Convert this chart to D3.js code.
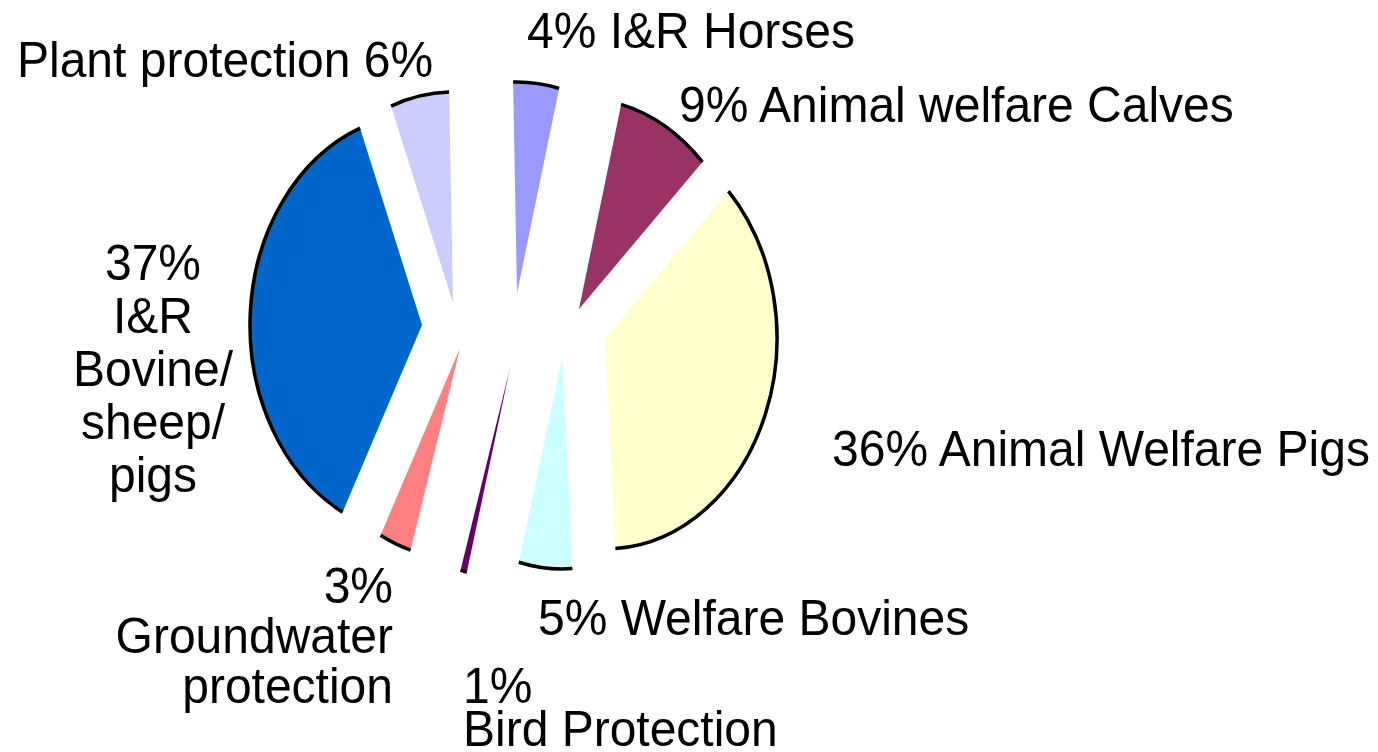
<!DOCTYPE html>
<html>
<head>
<meta charset="utf-8">
<script src="https://cdn.jsdelivr.net/npm/d3@7"></script>
<style>
	body { margin: 0; background: #fff; }
	svg { display: block; }
	text { font-family: "Liberation Sans", Arial, sans-serif; font-size: 48px; fill: #000; }
</style>
</head>
<body>
<div id="chart"></div>
<script>
// slices, clockwise from 12 o'clock
var categories = ["I&R Horses", "Animal welfare Calves", "Animal Welfare Pigs", "Welfare Bovines",
	"Bird Protection", "Groundwater protection", "I&R Bovine/sheep/pigs", "Plant protection"];
var values = [4.3, 8.8, 36.3, 5.0, 0.6, 3.0, 36.5, 5.5];
var colors = ["#9999FF", "#993366", "#FFFFCC", "#CCFFFF", "#660066", "#FF8080", "#0066CC", "#CCCCFF"];

// label text, {p} = percent
var labelLines = [
	["{p} I&R Horses"],
	["{p} Animal welfare Calves"],
	["{p} Animal Welfare Pigs"],
	["{p} Welfare Bovines"],
	["{p}", "Bird Protection"],
	["{p}", "Groundwater", "protection"],
	["{p}", "I&R", "Bovine/", "sheep/", "pigs"],
	["Plant protection {p}"]
];

// layout (pixels)
var width = 1378, height = 752;
var cx = 514, cy = 331;
var rx = 172, ry = 211;
var startDeg = -1.3;
var textStretch = 1.05;
// each slice was pulled out by hand, offset of its tip from the centre
var explode = [[3, -38], [65, -22], [91, 7], [48, 27], [-4, 37], [-54, 17], [-92, -6], [-61, -28]];
var labelPos = [
	{x: 527, y: 48, anchor: "start", lh: 0},
	{x: 679, y: 122, anchor: "start", lh: 0},
	{x: 832, y: 466, anchor: "start", lh: 0},
	{x: 538, y: 635, anchor: "start", lh: 0},
	{x: 463, y: 703, anchor: "start", lh: 43},
	{x: 393, y: 603, anchor: "end", lh: 50},
	{x: 153, y: 280, anchor: "middle", lh: 53}
	, {x: 17, y: 77, anchor: "start", lh: 0}
];

var svg = d3.select("#chart").append("svg")
	.attr("width", width)
	.attr("height", height);

var start = startDeg * Math.PI / 180;
var pie = d3.pie().sort(null).startAngle(start).endAngle(start + 2 * Math.PI);
var arcs = pie(values);
var arcFill = d3.arc().innerRadius(0).outerRadius(rx);

var slice = svg.selectAll("g.slice")
	.data(arcs)
	.enter().append("g")
	.attr("class", "slice")
	.attr("transform", function (d, i) {
		return "translate(" + (cx + explode[i][0]) + "," + (cy + explode[i][1]) + ") scale(1," + (ry / rx) + ")";
	});

slice.append("path")
	.attr("d", arcFill)
	.attr("fill", function (d, i) { return colors[i]; });

// black rim only on the outer edge
slice.append("path")
	.attr("d", function (d) {
		var p = d3.path();
		p.arc(0, 0, rx, d.startAngle - Math.PI / 2, d.endAngle - Math.PI / 2);
		return p.toString();
	})
	.attr("fill", "none")
	.attr("stroke", "#000")
	.attr("stroke-width", 3.5)
	.attr("vector-effect", "non-scaling-stroke");

labelLines.forEach(function (lines, i) {
	var pos = labelPos[i];
	var pct = Math.round(values[i]) + "%";
	var t = svg.append("text")
		.attr("text-anchor", pos.anchor)
		.attr("transform", "translate(" + pos.x + "," + pos.y + ") scale(1," + textStretch + ")");
	lines.forEach(function (s, j) {
		t.append("tspan")
			.attr("x", 0)
			.attr("y", j * pos.lh / textStretch)
			.text(s.replace("{p}", pct));
	});
});
</script>
</body>
</html>
